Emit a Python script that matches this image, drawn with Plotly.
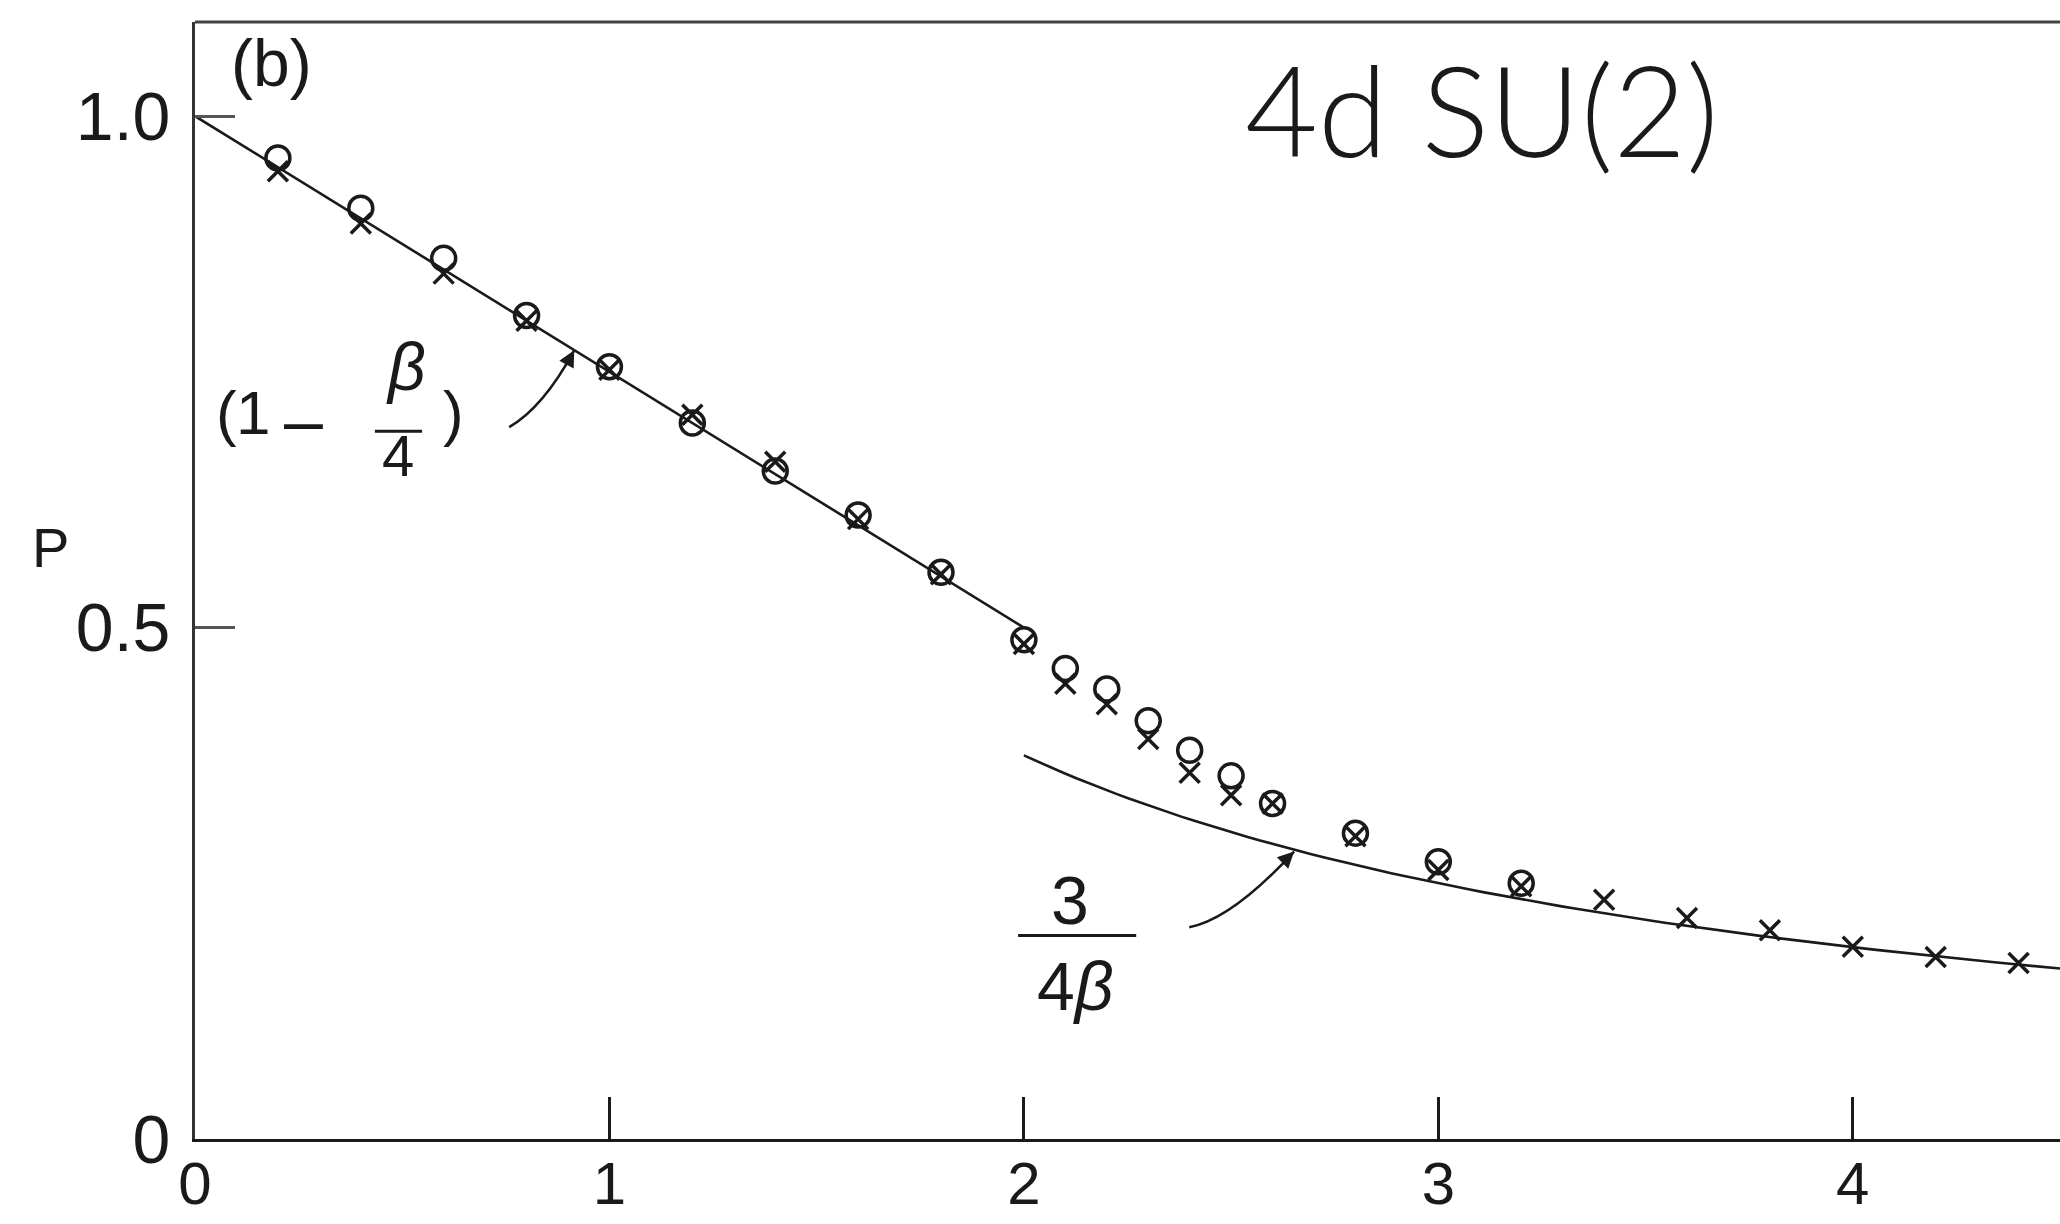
import numpy as np
import plotly.graph_objects as go

# Monte Carlo plaquette data, 4d SU(2): beta values and measured P
beta_circle = [0.2, 0.4, 0.6, 0.8, 1.0, 1.2, 1.4, 1.6, 1.8, 2.0,
               2.1, 2.2, 2.3, 2.4, 2.5, 2.6, 2.8, 3.0, 3.2]
p_circle = [0.959, 0.910, 0.861, 0.805, 0.755, 0.700, 0.653, 0.610, 0.554, 0.488,
            0.460, 0.440, 0.409, 0.380, 0.355, 0.328, 0.299, 0.271, 0.250]

beta_cross = [0.2, 0.4, 0.6, 0.8, 1.0, 1.2, 1.4, 1.6, 1.8, 2.0,
              2.1, 2.2, 2.3, 2.4, 2.5, 2.6, 2.8, 3.0, 3.2,
              3.4, 3.6, 3.8, 4.0, 4.2, 4.4]
p_cross = [0.946, 0.895, 0.846, 0.800, 0.752, 0.708, 0.662, 0.606, 0.552, 0.484,
           0.445, 0.425, 0.391, 0.358, 0.336, 0.328, 0.296, 0.263, 0.247,
           0.234, 0.216, 0.204, 0.188, 0.178, 0.172]

# Strong- and weak-coupling curves as labelled on the figure
beta_strong = np.array([0.0, 2.0])
p_strong = 1 - beta_strong / 4
beta_weak = np.linspace(2.0, 4.5, 80)
p_weak = 3 / (4 * beta_weak)

x_ticks = [0, 1, 2, 3, 4]
x_ticktext = ["0", "1", "2", "3", "4"]
y_ticks = [0, 0.5, 1.0]
y_ticktext = ["0", "0.5", "1.0"]

INK = "#1a1a1a"
FONT = "Liberation Sans"

fig = go.Figure()

fig.add_trace(go.Scatter(x=beta_strong, y=p_strong, mode="lines",
                         line=dict(color=INK, width=2.6), showlegend=False))
fig.add_trace(go.Scatter(x=beta_weak, y=p_weak, mode="lines",
                         line=dict(color=INK, width=2.6), showlegend=False))
fig.add_trace(go.Scatter(x=beta_cross, y=p_cross, mode="markers",
                         marker=dict(symbol="x-thin-open", size=20, color=INK,
                                     line=dict(color=INK, width=3.5)),
                         showlegend=False))
fig.add_trace(go.Scatter(x=beta_circle, y=p_circle, mode="markers",
                         marker=dict(symbol="circle-open", size=24, color=INK,
                                     line=dict(color=INK, width=3.5)),
                         showlegend=False))

shapes = [
    # top edge of the frame
    dict(type="line", xref="paper", yref="paper", x0=0, x1=1, y0=1, y1=1,
         line=dict(color="#444", width=3)),
    # fraction bars
    dict(type="line", xref="x", yref="y", x0=0.434, x1=0.548, y0=0.692, y1=0.692,
         line=dict(color=INK, width=3)),
    dict(type="line", xref="x", yref="y", x0=1.986, x1=2.271, y0=0.199, y1=0.199,
         line=dict(color=INK, width=3)),
    # curved pointers to the curves
    dict(type="path", xref="x", yref="y",
         path="M 0.758,0.696 Q 0.840,0.715 0.915,0.771",
         line=dict(color=INK, width=2.5)),
    dict(type="path", xref="x", yref="y",
         path="M 2.399,0.207 Q 2.502,0.215 2.652,0.281",
         line=dict(color=INK, width=2.5)),
]

def txt(x, y, s, size, xref="x", yref="y", family=FONT, weight=None):
    f = dict(family=family, size=size, color=INK)
    if weight is not None:
        f["weight"] = weight
    return dict(x=x, y=y, xref=xref, yref=yref, text=s, showarrow=False,
                font=f, xanchor="center", yanchor="middle")

annotations = [
    txt(3.105, 1.007, "4d SU(2)", 126, family="Lato", weight=300),
    txt(0.185, 1.052, "(b)", 66),
    txt(-0.0777, 0.578, "P", 56, xref="paper"),
    # (1 - beta/4)
    txt(0.075, 0.710, "(", 62),
    txt(0.140, 0.710, "1", 62),
    txt(0.262, 0.702, "\u2013", 70),
    txt(0.508, 0.755, "<i>\u03b2</i>", 66),
    txt(0.490, 0.668, "4", 58),
    txt(0.623, 0.710, ")", 62),
    # 3/(4 beta)
    txt(2.111, 0.234, "3", 68),
    txt(2.124, 0.150, "4<i>\u03b2</i>", 68),
    # arrowheads at the ends of the pointers
    dict(x=0.915, y=0.771, xref="x", yref="y", ax=-8.5, ay=15.8, text="",
         showarrow=True, arrowhead=2, arrowsize=1.3, arrowwidth=2.5,
         arrowcolor=INK, standoff=0),
    dict(x=2.652, y=0.281, xref="x", yref="y", ax=-12.8, ay=12.6, text="",
         showarrow=True, arrowhead=2, arrowsize=1.3, arrowwidth=2.5,
         arrowcolor=INK, standoff=0),
]

fig.update_layout(
    width=2060, height=1224,
    margin=dict(l=195, r=0, t=22, b=85, autoexpand=False),
    paper_bgcolor="white", plot_bgcolor="white",
    shapes=shapes, annotations=annotations,
    showlegend=False,
    xaxis=dict(range=[0, 4.5], showgrid=False, zeroline=False, automargin=False,
               showline=True, linecolor=INK, linewidth=3,
               ticks="inside", ticklen=42, tickwidth=3, tickcolor=INK,
               tickvals=x_ticks, ticktext=x_ticktext,
               tickfont=dict(family=FONT, size=60, color=INK),
               ticklabelstandoff=-10),
    yaxis=dict(range=[0, 1.092], showgrid=False, zeroline=False, automargin=False,
               showline=True, linecolor="#333", linewidth=3,
               ticks="inside", ticklen=40, tickwidth=3, tickcolor="#555",
               tickvals=y_ticks, ticktext=y_ticktext,
               tickfont=dict(family=FONT, size=68, color=INK),
               ticklabelstandoff=8),
)

fig.write_html("out.html")
